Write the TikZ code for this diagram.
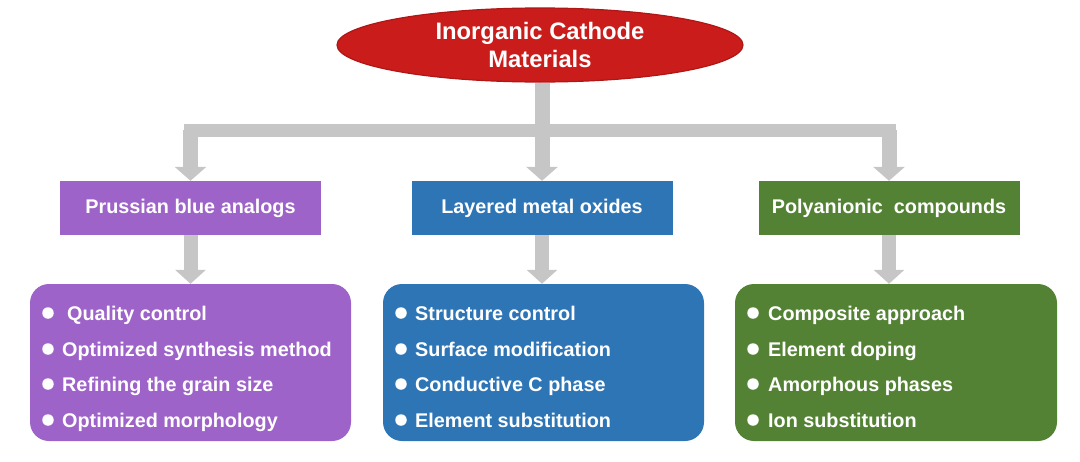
\documentclass[tikz,border=0pt]{standalone}
\usepackage{fontspec}
\setmainfont{Liberation Sans}
\usetikzlibrary{shapes.geometric,arrows.meta}
\definecolor{cred}{RGB}{202,28,26}
\definecolor{credd}{RGB}{175,22,22}
\definecolor{cpurple}{RGB}{158,99,200}
\definecolor{cblue}{RGB}{46,117,182}
\definecolor{cgreen}{RGB}{84,130,53}
\definecolor{cgray}{RGB}{198,198,198}
\tikzset{
  topnode/.style={ellipse,fill=cred,draw=credd,line width=1.2pt,minimum width=406pt,minimum height=74pt,inner sep=0pt,text=white,align=center,font=\fontsize{23.8}{28}\selectfont\bfseries},
  catbox/.style={rectangle,minimum width=261pt,minimum height=54pt,inner sep=0pt,text=white,font=\fontsize{19.8}{23}\selectfont\bfseries},
  listbox/.style={rectangle,rounded corners=19pt,minimum height=157pt,inner sep=0pt},
  item/.style={anchor=base west,inner sep=0pt,text=white,font=\fontsize{19.8}{23}\selectfont\bfseries},
  bul/.style={circle,fill=white,minimum size=11.5pt,inner sep=0pt},
  bigarrow/.style={draw=cgray,line width=15pt,-{Triangle[width=31pt,length=14pt]},fill=cgray},
  smallarrow/.style={draw=cgray,line width=14pt,-{Triangle[width=30pt,length=14pt]},fill=cgray},
  barline/.style={draw=cgray,line width=13pt},
}
\begin{document}
\begin{tikzpicture}[x=1pt,y=-1pt]
\useasboundingbox (0,0) rectangle (1080,461);
% top
\node[topnode] (top) at (540,45) {Inorganic Cathode\\Materials};
% category boxes
\node[catbox,fill=cpurple] (p1) at (190.5,208) {Prussian blue analogs};
\node[catbox,fill=cblue] (b1) at (542,208) {Layered metal oxides};
\node[catbox,fill=cgreen] (g1) at (889,208) {Polyanionic\ \ compounds};
% list boxes
\node[listbox,fill=cpurple,minimum width=321pt] (p2) at (190.5,362.5) {};
\node[listbox,fill=cblue,minimum width=321pt] (b2) at (543.5,362.5) {};
\node[listbox,fill=cgreen,minimum width=322pt] (g2) at (896,362.5) {};
% connectors
\coordinate (bar) at (540,130);
\draw[barline,shorten <=-7pt,shorten >=-7pt] (bar -| p1.north) -- (bar -| g1.north);
\draw[bigarrow] (top.south -| b1.north) -- (b1.north);
\draw[bigarrow] (bar -| p1.north) -- (p1.north);
\draw[bigarrow] (bar -| g1.north) -- (g1.north);
\draw[smallarrow] (p1.south) -- (p1.south |- p2.north);
\draw[smallarrow] (b1.south) -- (b1.south |- b2.north);
\draw[smallarrow] (g1.south) -- (g1.south |- g2.north);
% purple list
\node[bul] (pb1) at (48,313) {};
\node[bul] (pb2) at (48,349) {};
\node[bul] (pb3) at (48,384) {};
\node[bul] (pb4) at (48,420) {};
\node[item] (pt1) at (67,320) {Quality control};
\node[item] (pt2) at (62,356) {Optimized synthesis method};
\node[item] (pt3) at (62,391) {Refining the grain size};
\node[item] (pt4) at (62,427) {Optimized morphology};
% blue list
\node[bul] (bb1) at (401,313) {};
\node[bul] (bb2) at (401,349) {};
\node[bul] (bb3) at (401,384) {};
\node[bul] (bb4) at (401,420) {};
\node[item] (bt1) at (415,320) {Structure control};
\node[item] (bt2) at (415,356) {Surface modification};
\node[item] (bt3) at (415,391) {Conductive C phase};
\node[item] (bt4) at (415,427) {Element substitution};
% green list
\node[bul] (gb1) at (753,313) {};
\node[bul] (gb2) at (753,349) {};
\node[bul] (gb3) at (753,384) {};
\node[bul] (gb4) at (753,420) {};
\node[item] (gt1) at (768,320) {Composite approach};
\node[item] (gt2) at (768,356) {Element doping};
\node[item] (gt3) at (768,391) {Amorphous phases};
\node[item] (gt4) at (768,427) {Ion substitution};
\end{tikzpicture}
\end{document}
